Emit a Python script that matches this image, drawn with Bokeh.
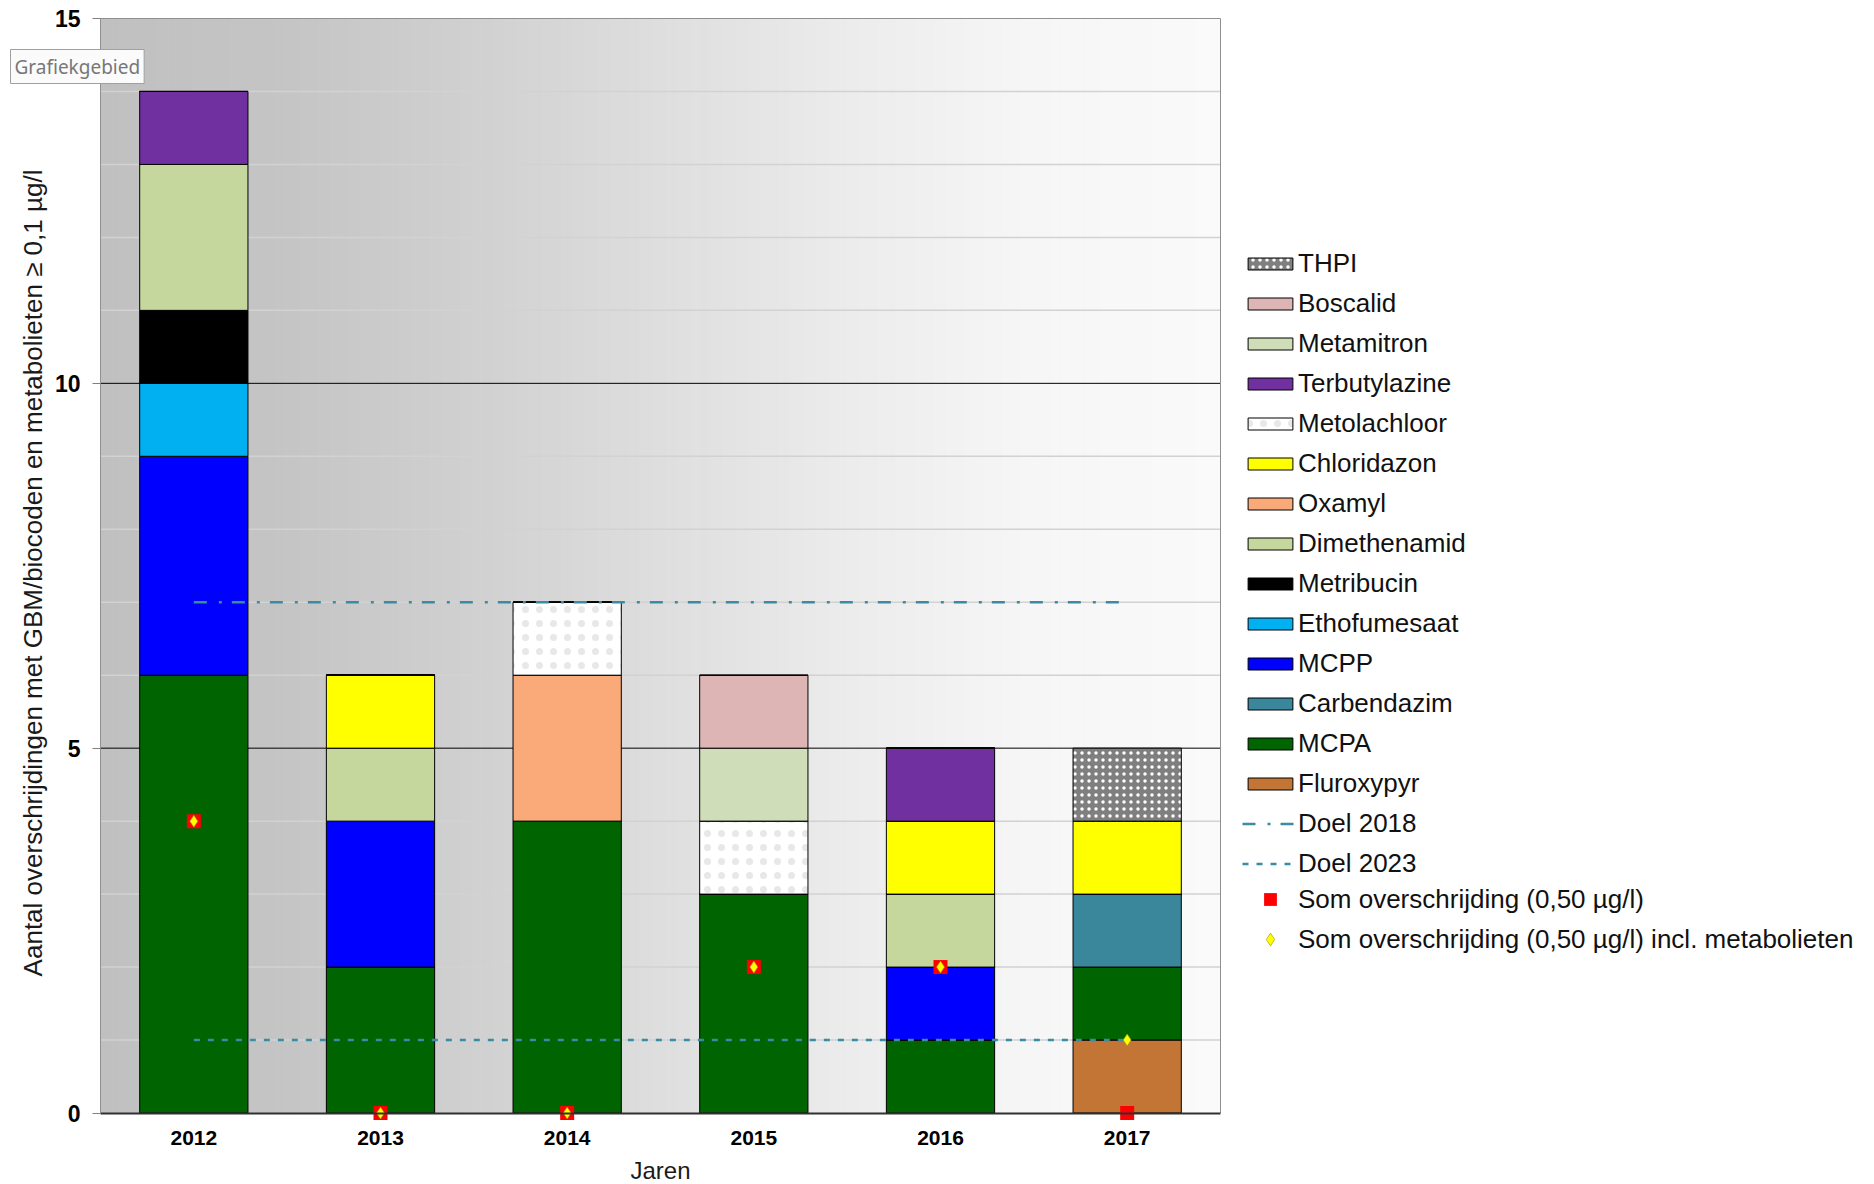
import math
import numpy as np
from bokeh.plotting import figure
from bokeh.models import (ColumnDataSource, Range1d, FixedTicker, Legend, LegendItem, Label)
from bokeh.embed import file_html
from bokeh.resources import INLINE

# ---------------- data ----------------
years = ["2012", "2013", "2014", "2015", "2016", "2017"]

# stacked series, listed bottom -> top
fluroxypyr    = [0, 0, 0, 0, 0, 1]
mcpa          = [6, 2, 4, 3, 1, 1]
carbendazim   = [0, 0, 0, 0, 0, 1]
mcpp          = [3, 2, 0, 0, 1, 0]
ethofumesaat  = [1, 0, 0, 0, 0, 0]
metribucin    = [1, 0, 0, 0, 0, 0]
dimethenamid  = [2, 1, 0, 0, 1, 0]
oxamyl        = [0, 0, 2, 0, 0, 0]
chloridazon   = [0, 1, 0, 0, 1, 1]
metolachloor  = [0, 0, 1, 1, 0, 0]
terbutylazine = [1, 0, 0, 0, 1, 0]
metamitron    = [0, 0, 0, 1, 0, 0]
boscalid      = [0, 0, 0, 1, 0, 0]
thpi          = [0, 0, 0, 0, 0, 1]

doel_2018 = [7, 7, 7, 7, 7, 7]
doel_2023 = [1, 1, 1, 1, 1, 1]
som_overschrijding = [4, 0, 0, 2, 2, 0]
som_overschrijding_metabolieten = [4, 0, 0, 2, 2, 1]

y_major_ticks = [0, 5, 10, 15]
y_minor_ticks = list(range(0, 16))

series_names = ["Fluroxypyr", "MCPA", "Carbendazim", "MCPP", "Ethofumesaat", "Metribucin",
                "Dimethenamid", "Oxamyl", "Chloridazon", "Metolachloor", "Terbutylazine",
                "Metamitron", "Boscalid", "THPI"]
series_values = [fluroxypyr, mcpa, carbendazim, mcpp, ethofumesaat, metribucin,
                 dimethenamid, oxamyl, chloridazon, metolachloor, terbutylazine,
                 metamitron, boscalid, thpi]

# ---------------- styles ----------------
fill_colors = ["#c27535", "#006400", "#3a879c", "#0000ff", "#00b0f0", "#000000",
               "#c5d79c", "#f9aa78", "#ffff00", "#ffffff", "#7030a0",
               "#d0ddb9", "#ddb5b5", "#7f7f7f"]
hatch_patterns = [None] * 14
hatch_colors = ["white"] * 14
hatch_scales = [8] * 14
hatch_weights = [1.5] * 14
hatch_patterns[9] = "dot"; hatch_colors[9] = "#e8e8e8"; hatch_scales[9] = 14; hatch_weights[9] = 1
hatch_patterns[13] = "dot"; hatch_colors[13] = "#ffffff"; hatch_scales[13] = 7; hatch_weights[13] = 1.5

teal = "#3b8ca3"
FONT = "Liberation Sans"

# ---------------- layout (pixels) ----------------
W, H = 1874, 1184
PLOT_L, PLOT_R, PLOT_T, PLOT_B = 100, 1220, 18, 1112.5   # chart area on the canvas

xs = list(range(len(years)))
cx0, cx1 = -0.5, len(years) - 0.5          # chart x extent (data)
cy0, cy1 = y_major_ticks[0], y_major_ticks[-1]
ppx = (PLOT_R - PLOT_L) / (cx1 - cx0)
ppy = (PLOT_B - PLOT_T) / (cy1 - cy0)
x_range = Range1d(cx0 - PLOT_L / ppx, cx1 + (W - PLOT_R) / ppx)
y_range = Range1d(cy0 - (H - PLOT_B) / ppy, cy1 + PLOT_T / ppy)

data = {"x": xs}
for name, vals in zip(series_names, series_values):
    data[name] = vals
source = ColumnDataSource(data)

p = figure(width=W, height=H, x_range=x_range, y_range=y_range,
           output_backend="svg", toolbar_location=None,
           min_border=0, min_border_left=0, min_border_right=0,
           min_border_top=0, min_border_bottom=0)
p.background_fill_color = "white"
p.border_fill_color = "white"
p.outline_line_color = None
p.xgrid.visible = False
p.ygrid.visible = False

# background gradient (left grey -> right near white)
stops_pos = [0, 0.17, 0.33, 0.5, 0.67, 0.83, 1.0]
stops_val = [192, 197, 208, 222, 236, 246, 250]
n = 180
edges = np.linspace(cx0, cx1, n + 1)
mid = (np.arange(n) + 0.5) / n
g = np.interp(mid, stops_pos, stops_val).round().astype(int)
bg_cols = ["#%02x%02x%02x" % (v, v, v) for v in g]
p.quad(left=edges[:-1], right=edges[1:], bottom=cy0, top=cy1,
       fill_color=bg_cols, line_color=bg_cols, line_width=1, level="image")

# grid lines
minor = [t for t in y_minor_ticks if t not in y_major_ticks]
p.segment(x0=cx0, x1=cx1, y0=minor, y1=minor, line_color="#d2d2d2", line_width=1.5,
          level="underlay")
inner_major = y_major_ticks[1:-1]
p.segment(x0=cx0, x1=cx1, y0=inner_major, y1=inner_major, line_color="black", line_width=1,
          level="underlay")
# frame border (top, right)
p.segment(x0=[cx0, cx1], x1=[cx1, cx1], y0=[cy1, cy0], y1=[cy1, cy1],
          line_color="#909090", line_width=1, level="underlay")

# axes at fixed locations
p.yaxis.fixed_location = cx0
p.yaxis.bounds = (cy0, cy1)
p.yaxis.ticker = FixedTicker(ticks=y_major_ticks)
p.yaxis.minor_tick_line_color = None
p.yaxis.major_tick_out = 8
p.yaxis.major_tick_in = 0
p.yaxis.major_tick_line_color = "#808080"
p.yaxis.axis_line_color = "#909090"
p.yaxis.major_label_standoff = 12
p.yaxis.major_label_text_font = FONT
p.yaxis.major_label_text_font_style = "bold"
p.yaxis.major_label_text_font_size = "23px"
p.yaxis.major_label_text_color = "black"

p.xaxis.fixed_location = cy0
p.xaxis.bounds = (cx0, cx1)
p.xaxis.ticker = FixedTicker(ticks=xs)
p.xaxis.major_label_overrides = {i: y for i, y in enumerate(years)}
p.xaxis.major_tick_line_color = None
p.xaxis.minor_tick_line_color = None
p.xaxis.axis_line_color = "#303030"
p.xaxis.axis_line_width = 2
p.xaxis.major_label_standoff = 12
p.xaxis.major_label_text_font = FONT
p.xaxis.major_label_text_font_style = "bold"
p.xaxis.major_label_text_font_size = "21px"
p.xaxis.major_label_text_color = "black"

# axis titles
p.add_layout(Label(x=(cx0 + cx1) / 2, y=H - 1170, y_units="screen", text="Jaren",
                   text_font=FONT, text_font_size="24px", text_color="#1a1a1a",
                   text_align="center", text_baseline="middle"))
p.add_layout(Label(x=32, x_units="screen", y=(cy0 + cy1) / 2,
                   text="Aantal overschrijdingen  met GBM/biocoden  en metabolieten \u2265 0,1 \u00b5g/l",
                   angle=math.pi / 2, text_font=FONT, text_font_size="26px", text_color="#1a1a1a",
                   text_align="center", text_baseline="middle"))

# stacked bars
bar_renderers = p.vbar_stack(series_names, x="x", width=0.58, source=source,
                             fill_color=fill_colors, line_color="black", line_width=1,
                             hatch_pattern=hatch_patterns, hatch_color=hatch_colors,
                             hatch_scale=hatch_scales, hatch_weight=hatch_weights)

# target lines
l18 = p.line(xs, doel_2018, line_color=teal, line_width=2.5, line_dash="13 12 3 10")
l23 = p.line(xs, doel_2023, line_color=teal, line_width=2.5, line_dash="6 8")

# sum markers
sq = p.scatter(xs, som_overschrijding, marker="square", size=14,
               fill_color="#ff0000", line_color=None)
dm = p.scatter(xs, som_overschrijding_metabolieten, marker="diamond", size=12,
               fill_color="#ffff00", line_color="#a09000", line_width=0.6)

# legends
items1 = [LegendItem(label=name, renderers=[r])
          for name, r in reversed(list(zip(series_names, bar_renderers)))]
items1 += [LegendItem(label="Doel 2018", renderers=[l18]),
           LegendItem(label="Doel 2023", renderers=[l23])]
leg1 = Legend(items=items1, location=(1242, 305), glyph_width=56, glyph_height=15,
              label_height=30, spacing=9, padding=0, margin=0, label_standoff=0,
              border_line_color=None, background_fill_alpha=0,
              label_text_font=FONT, label_text_font_size="26px", label_text_color="#111111")
p.add_layout(leg1)

items2 = [LegendItem(label="Som overschrijding (0,50 \u00b5g/l)", renderers=[sq]),
          LegendItem(label="Som overschrijding (0,50 \u00b5g/l) incl. metabolieten", renderers=[dm])]
leg2 = Legend(items=items2, location=(1242, 229), glyph_width=56, glyph_height=32,
              label_height=32, spacing=8, padding=0, margin=0, label_standoff=0,
              border_line_color=None, background_fill_alpha=0,
              label_text_font=FONT, label_text_font_size="26px", label_text_color="#111111")
p.add_layout(leg2)

# Excel tooltip visible in the reference
tip = Label(x=10, y=H - 66, x_units="screen", y_units="screen", text="Grafiekgebied",
            text_font="Noto Sans", text_font_size="19px", text_color="#777777",
            text_baseline="middle", background_fill_color="#fbfbfb",
            border_line_color="#a0a0a0", padding=4)
p.add_layout(tip)

open("out.html", "w").write(file_html(p, INLINE))
